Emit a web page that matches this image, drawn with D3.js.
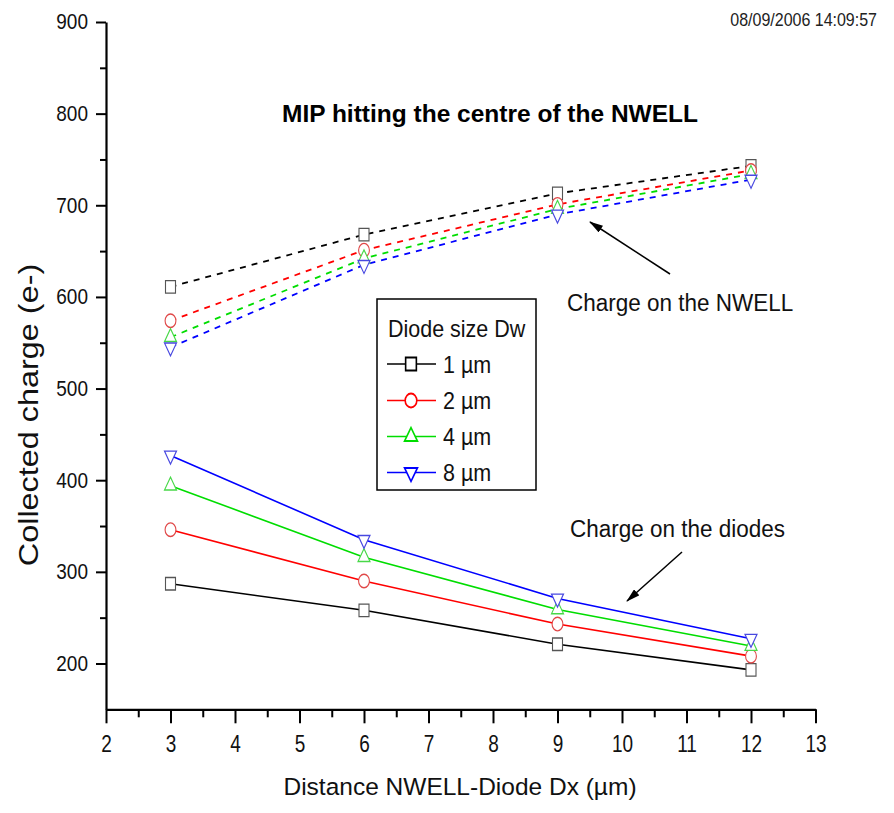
<!DOCTYPE html>
<html>
<head>
<meta charset="utf-8">
<script src="https://cdn.jsdelivr.net/npm/d3@7"></script>
<style>
  body { margin: 0; background: #fff; }
  svg { display: block; font-family: "Liberation Sans", Arial, sans-serif; }
  .stretch { transform-box: fill-box; transform-origin: center; }
</style>
</head>
<body>
<div id="chart"></div>
<script>
// data
var dxValues = [3, 6, 9, 12];
var seriesNames = ["1 \u00b5m", "2 \u00b5m", "4 \u00b5m", "8 \u00b5m"];
var nwell1 = [611, 668, 713, 743];
var nwell2 = [574, 651, 701, 738];
var nwell4 = [556, 642, 696, 734];
var nwell8 = [545, 635, 690, 728];
var diode1 = [287, 258, 221, 193];
var diode2 = [346, 290, 243, 208];
var diode4 = [394, 316, 259, 219];
var diode8 = [427, 335, 271, 227];
var xTicks = [2, 3, 4, 5, 6, 7, 8, 9, 10, 11, 12, 13];
var yTicks = [200, 300, 400, 500, 600, 700, 800, 900];

var lineColors = ["#000000", "#ff0000", "#00dd00", "#0000ff"];
var markColors = ["#555555", "#e04848", "#48d848", "#4848e0"];
var symbols = [d3.symbolSquare, d3.symbolCircle, d3.symbolTriangle, d3.symbolTriangle];
var symSizes = [100, 92, 62, 62];
var symRot = [0, 0, 0, 180];

var nwell = [nwell1, nwell2, nwell4, nwell8];
var diode = [diode1, diode2, diode4, diode8];

var svgWidth = 894;
var svgHeight = 813;

var svg = d3.select("#chart")
  .append("svg")
  .attr("width", svgWidth)
  .attr("height", svgHeight);

var x = d3.scaleLinear().domain([2, 13]).range([106, 815.5]);
var y = d3.scaleLinear().domain([150, 900]).range([709.3, 22]);

function stretchY(sel, s) {
  sel.classed("stretch", true).style("transform", "scaleY(" + s + ")");
}

// minor ticks first
svg.append("g")
  .attr("transform", "translate(0,709.3)")
  .call(d3.axisBottom(x).tickValues(d3.range(2.5, 13, 1)).tickSize(8).tickSizeOuter(0).tickFormat(""))
  .call(g => g.select(".domain").remove())
  .selectAll("line").attr("stroke-width", 2);

svg.append("g")
  .attr("transform", "translate(106,0)")
  .call(d3.axisLeft(y).tickValues(d3.range(250, 900, 100)).tickSize(6).tickSizeOuter(0).tickFormat(""))
  .call(g => g.select(".domain").remove())
  .selectAll("line").attr("stroke-width", 2);

// major axes
var xAxis = svg.append("g")
  .attr("transform", "translate(0,709.3)")
  .call(d3.axisBottom(x).tickValues(xTicks).tickSize(14).tickSizeOuter(0).tickPadding(13));
xAxis.select(".domain").attr("stroke-width", 2.2);
xAxis.selectAll("line").attr("stroke-width", 2);
xAxis.selectAll("text")
  .attr("font-size", 19)
  .attr("fill", "#111")
  .call(stretchY, 1.3);

var yAxis = svg.append("g")
  .attr("transform", "translate(106,0)")
  .call(d3.axisLeft(y).tickValues(yTicks).tickSize(10).tickSizeOuter(0).tickPadding(8));
yAxis.select(".domain").attr("stroke-width", 2.2);
yAxis.selectAll("line").attr("stroke-width", 2);
yAxis.selectAll("text")
  .attr("font-size", 19)
  .attr("fill", "#111")
  .call(stretchY, 1.12);

// lines
var line = d3.line()
  .x((d, i) => x(dxValues[i]))
  .y(d => y(d));

nwell.forEach(function(vals, k) {
  svg.append("path")
    .attr("d", line(vals))
    .attr("fill", "none")
    .attr("stroke", lineColors[k])
    .attr("stroke-width", 1.8)
    .attr("stroke-dasharray", "6,6");
});
diode.forEach(function(vals, k) {
  svg.append("path")
    .attr("d", line(vals))
    .attr("fill", "none")
    .attr("stroke", lineColors[k])
    .attr("stroke-width", 1.6);
});

// markers
function drawMarkers(vals, k) {
  svg.append("g").selectAll("path")
    .data(vals)
    .enter()
    .append("path")
    .attr("d", d3.symbol().type(symbols[k]).size(symSizes[k]))
    .attr("transform", (d, i) => `translate(${x(dxValues[i])},${y(d)}) scale(1,1.25) rotate(${symRot[k]})`)
    .attr("fill", "#fff")
    .attr("stroke", markColors[k])
    .attr("stroke-width", 1.1);
}
nwell.forEach(drawMarkers);
diode.forEach(drawMarkers);

// title and date
svg.append("text")
  .attr("x", 490)
  .attr("y", 122)
  .attr("text-anchor", "middle")
  .attr("font-size", 24.5)
  .attr("font-weight", "bold")
  .text("MIP hitting the centre of the NWELL");

svg.append("text")
  .attr("x", 877)
  .attr("y", 25)
  .attr("text-anchor", "end")
  .attr("font-size", 16)
  .attr("fill", "#222")
  .text("08/09/2006 14:09:57")
  .call(stretchY, 1.2);

// axis labels
svg.append("text")
  .attr("x", 460)
  .attr("y", 795)
  .attr("text-anchor", "middle")
  .attr("font-size", 24.5)
  .attr("fill", "#111")
  .text("Distance NWELL-Diode Dx (\u00b5m)");

svg.append("text")
  .attr("x", 28)
  .attr("y", 424.5)
  .attr("text-anchor", "middle")
  .attr("font-size", 27)
  .attr("fill", "#111")
  .classed("stretch", true)
  .style("transform", "rotate(-90deg) scaleX(1.2)")
  .text("Collected charge (e-)");

// annotations with arrows
var defs = svg.append("defs");
defs.append("marker")
  .attr("id", "arrow")
  .attr("viewBox", "0 0 14 8")
  .attr("refX", 13)
  .attr("refY", 4)
  .attr("markerWidth", 14)
  .attr("markerHeight", 8)
  .attr("markerUnits", "userSpaceOnUse")
  .attr("orient", "auto")
  .append("path")
  .attr("d", "M0,0 L14,4 L0,8 Z")
  .attr("fill", "#000");

svg.append("line")
  .attr("x1", 670).attr("y1", 274)
  .attr("x2", 590).attr("y2", 222)
  .attr("stroke", "#000")
  .attr("stroke-width", 1.5)
  .attr("marker-end", "url(#arrow)");

svg.append("text")
  .attr("x", 567)
  .attr("y", 311)
  .attr("font-size", 22.5)
  .attr("fill", "#111")
  .text("Charge on the NWELL")
  .call(stretchY, 1.05);

svg.append("line")
  .attr("x1", 682).attr("y1", 552)
  .attr("x2", 627).attr("y2", 601)
  .attr("stroke", "#000")
  .attr("stroke-width", 1.5)
  .attr("marker-end", "url(#arrow)");

svg.append("text")
  .attr("x", 570)
  .attr("y", 537)
  .attr("font-size", 22.5)
  .attr("fill", "#111")
  .text("Charge on the diodes")
  .call(stretchY, 1.05);

// legend
var legend = svg.append("g");
legend.append("rect")
  .attr("x", 377)
  .attr("y", 299)
  .attr("width", 159)
  .attr("height", 191)
  .attr("fill", "#fff")
  .attr("stroke", "#000")
  .attr("stroke-width", 1.5);

legend.append("text")
  .attr("x", 388)
  .attr("y", 336)
  .attr("font-size", 21.5)
  .attr("fill", "#111")
  .text("Diode size Dw")
  .call(stretchY, 1.08);

var rowY = [364, 400.5, 436.5, 472.5];
seriesNames.forEach(function(name, k) {
  var row = legend.append("g").attr("transform", `translate(0,${rowY[k]})`);
  row.append("line")
    .attr("x1", 387).attr("x2", 436)
    .attr("stroke", lineColors[k])
    .attr("stroke-width", 1.6);
  row.append("path")
    .attr("d", d3.symbol().type(symbols[k]).size(symSizes[k] * 1.15))
    .attr("transform", `translate(411,0) scale(1,1.2) rotate(${symRot[k]})`)
    .attr("fill", "#fff")
    .attr("stroke", lineColors[k])
    .attr("stroke-width", 1.6);
  row.append("text")
    .attr("x", 443)
    .attr("y", 8)
    .attr("font-size", 21.5)
    .attr("fill", "#111")
    .text(name)
    .call(stretchY, 1.08);
});
</script>
</body>
</html>
